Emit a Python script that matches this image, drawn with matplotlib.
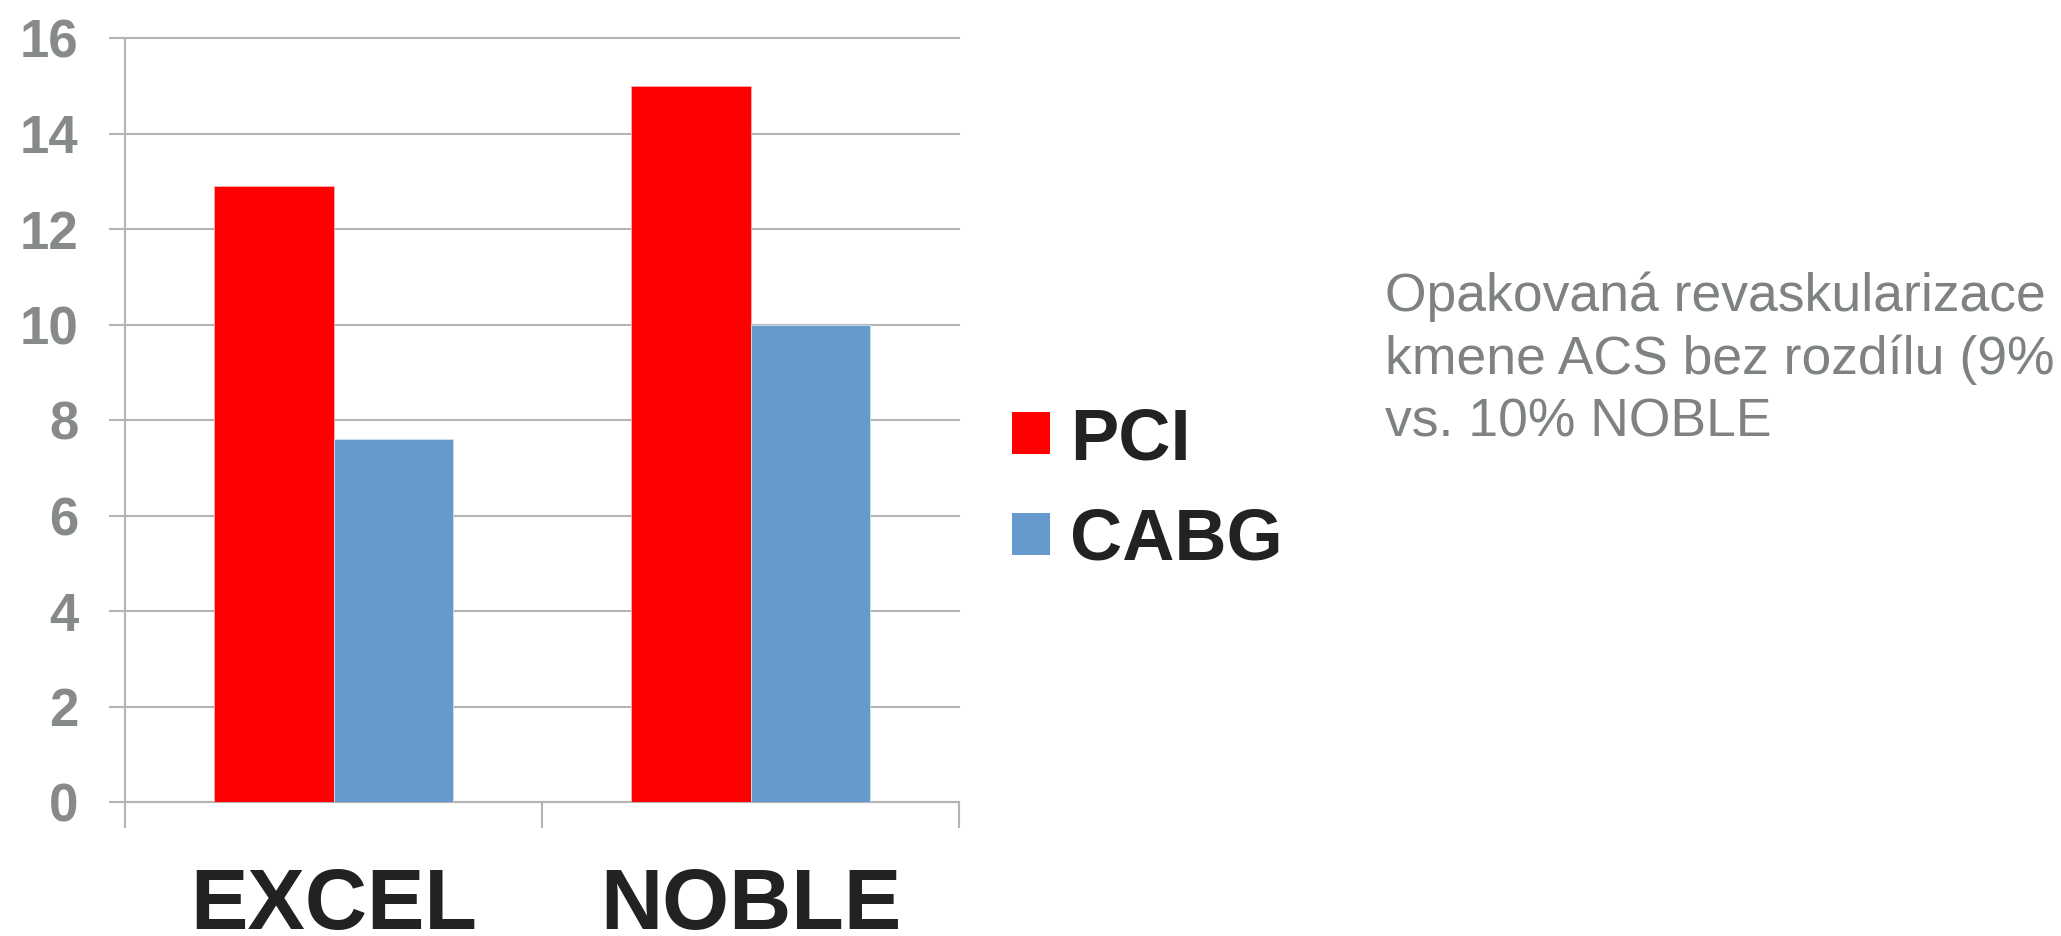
import matplotlib
matplotlib.use('Agg')
import matplotlib.pyplot as plt
from matplotlib.patches import Patch
import numpy as np

plt.rcParams['font.family'] = ['Liberation Sans', 'DejaVu Sans']

# data
categories = ['EXCEL', 'NOBLE']
pci = [12.9, 15.0]
cabg = [7.6, 10.0]
series_names = ['PCI', 'CABG']
yticks = [0, 2, 4, 6, 8, 10, 12, 14, 16]
note = 'Opakovaná revaskularizace\nkmene ACS bez rozdílu (9%\nvs. 10% NOBLE'

red = '#ff0000'
blue = '#6699cc'
grid_col = '#b4b4b4'
tick_col = '#878a8a'

fig = plt.figure(figsize=(20.61, 9.36), dpi=100)
ax = fig.add_axes([0.06065, 0.14316, 0.40466, 0.81624])

x = np.arange(len(categories))
w = 0.2854
ax.bar(x - w / 2, pci, w, color=red, edgecolor='#ffb0b0', linewidth=0.6, zorder=3)
ax.bar(x + w / 2, cabg, w, color=blue, edgecolor='#d0e0f0', linewidth=0.6, zorder=3)

ax.set_xlim(-0.5, 1.5)
ax.set_ylim(0, 16)

# y axis
ax.set_yticks(yticks)
ax.set_yticklabels([str(v) for v in yticks], fontsize=38, fontweight='bold', color=tick_col)
ax.tick_params(axis='y', length=11.5, width=1.5, color=grid_col, pad=22)
ax.yaxis.grid(True, color=grid_col, linewidth=1.5, zorder=0)
for gl in ax.yaxis.get_gridlines():
    gl.set_clip_on(False)

# x axis: labels at centres, tick marks at group borders
ax.set_xticks(x)
ax.set_xticklabels(categories, fontsize=62, fontweight='bold', color='#222222')
ax.tick_params(axis='x', which='major', length=0, pad=47)
ax.set_xticks([-0.5, 0.5, 1.5], minor=True)
ax.tick_params(axis='x', which='minor', length=18.5, width=1.5, color=grid_col)

for s in ['top', 'right']:
    ax.spines[s].set_visible(False)
for s in ['left', 'bottom']:
    ax.spines[s].set_color(grid_col)
    ax.spines[s].set_linewidth(1.5)
ax.set_axisbelow(True)

handles = [Patch(facecolor=red), Patch(facecolor=blue)]
leg = fig.legend(handles, series_names, loc='upper left',
                 bbox_to_anchor=(1012 / 2061, 1 - 406 / 936),
                 frameon=False, borderpad=0, borderaxespad=0,
                 handlelength=0.52, handleheight=0.52, handletextpad=0.28,
                 labelspacing=0.45, prop={'size': 52, 'weight': 'bold'})
for t in leg.get_texts():
    t.set_color('#222222')

fig.text(1385 / 2061, 1 - 271 / 936, note, fontsize=38.5, color='#7f8282',
         ha='left', va='top', linespacing=1.33)

fig.savefig('out.png', dpi=100)
